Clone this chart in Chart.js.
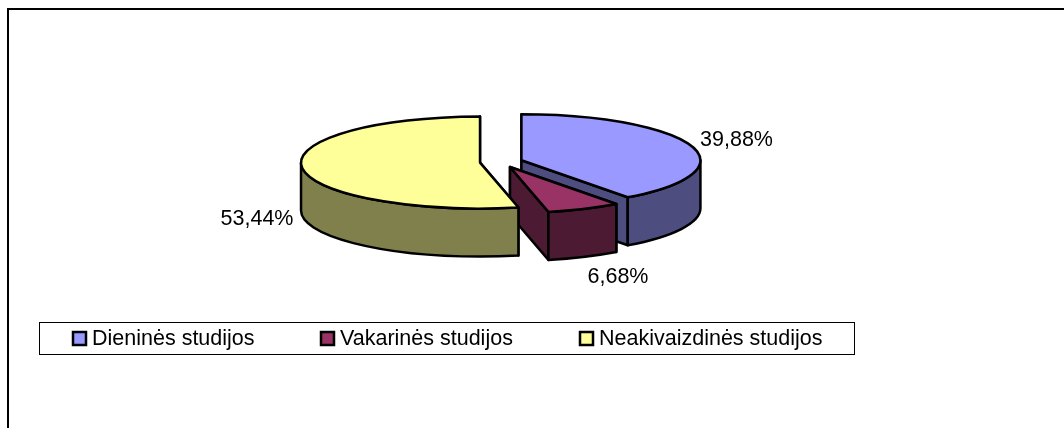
<!DOCTYPE html>
<html>
<head>
<meta charset="utf-8">
<style>
  html, body { margin: 0; padding: 0; background: #fff; }
  #wrap { width: 1064px; height: 428px; }
</style>
<script src="https://cdn.jsdelivr.net/npm/chart.js@4"></script>
</head>
<body>
<div id="wrap"><canvas id="pieChart"></canvas></div>
<script>
const categories = ["Dieninės studijos", "Vakarinės studijos", "Neakivaizdinės studijos"];
const shares = [39.88, 6.68, 53.44];
const shareLabels = ["39,88%", "6,68%", "53,44%"];
const topColors = ["#9999FF", "#993366", "#FFFF99"];
const sideColors = ["#4D4D80", "#4D1A33", "#80804D"];

// where the flattened pie sits on the page
const pieX = 501.2, pieY = 162, squash = 0.257, depth = 48, explode = 21.3;
const labelAnchors = [[736.5, 140], [618, 277], [257, 219]];
const legendBox = { x: 39.5, y: 322.5, w: 815, h: 32 };
const legendSwatchX = [73, 321, 580];
const legendTextX = [92, 340, 599];

function point(r, a, dy) {
  return [r * Math.cos(a), r * Math.sin(a) * squash + (dy || 0)];
}

function paint(ctx, fill) {
  ctx.fillStyle = fill;
  ctx.fill();
  ctx.stroke();
}

function cutWall(ctx, r, a, color) {
  const p = point(r, a);
  ctx.beginPath();
  ctx.moveTo(0, 0);
  ctx.lineTo(p[0], p[1]);
  ctx.lineTo(p[0], p[1] + depth);
  ctx.lineTo(0, depth);
  ctx.closePath();
  paint(ctx, color);
}

function outerWall(ctx, r, a0, a1, color) {
  // only the part facing the viewer, canvas angles 0..PI
  const ranges = [[a0, a1], [a0 - 2 * Math.PI, a1 - 2 * Math.PI]];
  ranges.forEach(([s, e]) => {
    const from = Math.max(s, 0), to = Math.min(e, Math.PI);
    if (to <= from) return;
    ctx.beginPath();
    ctx.ellipse(0, 0, r, r * squash, 0, from, to);
    ctx.ellipse(0, depth, r, r * squash, 0, to, from, true);
    ctx.closePath();
    paint(ctx, color);
  });
}

const pie3d = {
  id: "pie3d",
  beforeDatasetsDraw(chart) {
    const ctx = chart.ctx;
    const arcs = chart.getDatasetMeta(0).data;
    ctx.save();
    ctx.fillStyle = "#fff";
    ctx.fillRect(0, 0, chart.width, chart.height);
    ctx.strokeStyle = "#000";
    ctx.lineWidth = 2;
    ctx.beginPath();
    ctx.moveTo(8, 428);
    ctx.lineTo(8, 9);
    ctx.lineTo(1064, 9);
    ctx.stroke();

    ctx.lineWidth = 2.5;
    ctx.lineJoin = "round";
    arcs.forEach((arc, i) => {
      const a0 = arc.startAngle, a1 = arc.endAngle, mid = (a0 + a1) / 2;
      const r = arc.outerRadius;
      ctx.save();
      ctx.translate(pieX + Math.cos(mid) * explode, pieY + Math.sin(mid) * explode * squash);
      cutWall(ctx, r, a0, sideColors[i]);
      cutWall(ctx, r, a1, sideColors[i]);
      outerWall(ctx, r, a0, a1, sideColors[i]);
      ctx.beginPath();
      ctx.moveTo(0, 0);
      ctx.ellipse(0, 0, r, r * squash, 0, a0, a1);
      ctx.closePath();
      paint(ctx, topColors[i]);
      ctx.restore();
    });
    ctx.restore();
    return false;
  },
  afterDraw(chart) {
    const ctx = chart.ctx;
    ctx.save();
    ctx.fillStyle = "#000";
    ctx.font = "21.5px 'Liberation Sans'";
    ctx.textAlign = "center";
    ctx.textBaseline = "middle";
    shareLabels.forEach((t, i) => ctx.fillText(t, labelAnchors[i][0], labelAnchors[i][1]));

    ctx.strokeStyle = "#000";
    ctx.lineWidth = 1;
    ctx.strokeRect(legendBox.x, legendBox.y, legendBox.w, legendBox.h);
    ctx.textAlign = "left";
    chart.data.labels.forEach((label, i) => {
      ctx.lineWidth = 2.5;
      ctx.fillStyle = topColors[i];
      ctx.fillRect(legendSwatchX[i], 332, 13, 13);
      ctx.strokeRect(legendSwatchX[i], 332, 13, 13);
      ctx.fillStyle = "#000";
      ctx.fillText(label, legendTextX[i], 339);
    });
    ctx.restore();
  },
};

new Chart(document.getElementById("pieChart"), {
  type: "pie",
  data: {
    labels: categories,
    datasets: [{ data: shares, backgroundColor: topColors, borderColor: "#000", borderWidth: 2 }],
  },
  options: {
    responsive: true,
    maintainAspectRatio: false,
    animation: false,
    layout: { padding: { top: 34, bottom: 34 } },
    plugins: { legend: { display: false }, tooltip: { enabled: false } },
  },
  plugins: [pie3d],
});
</script>
</body>
</html>
